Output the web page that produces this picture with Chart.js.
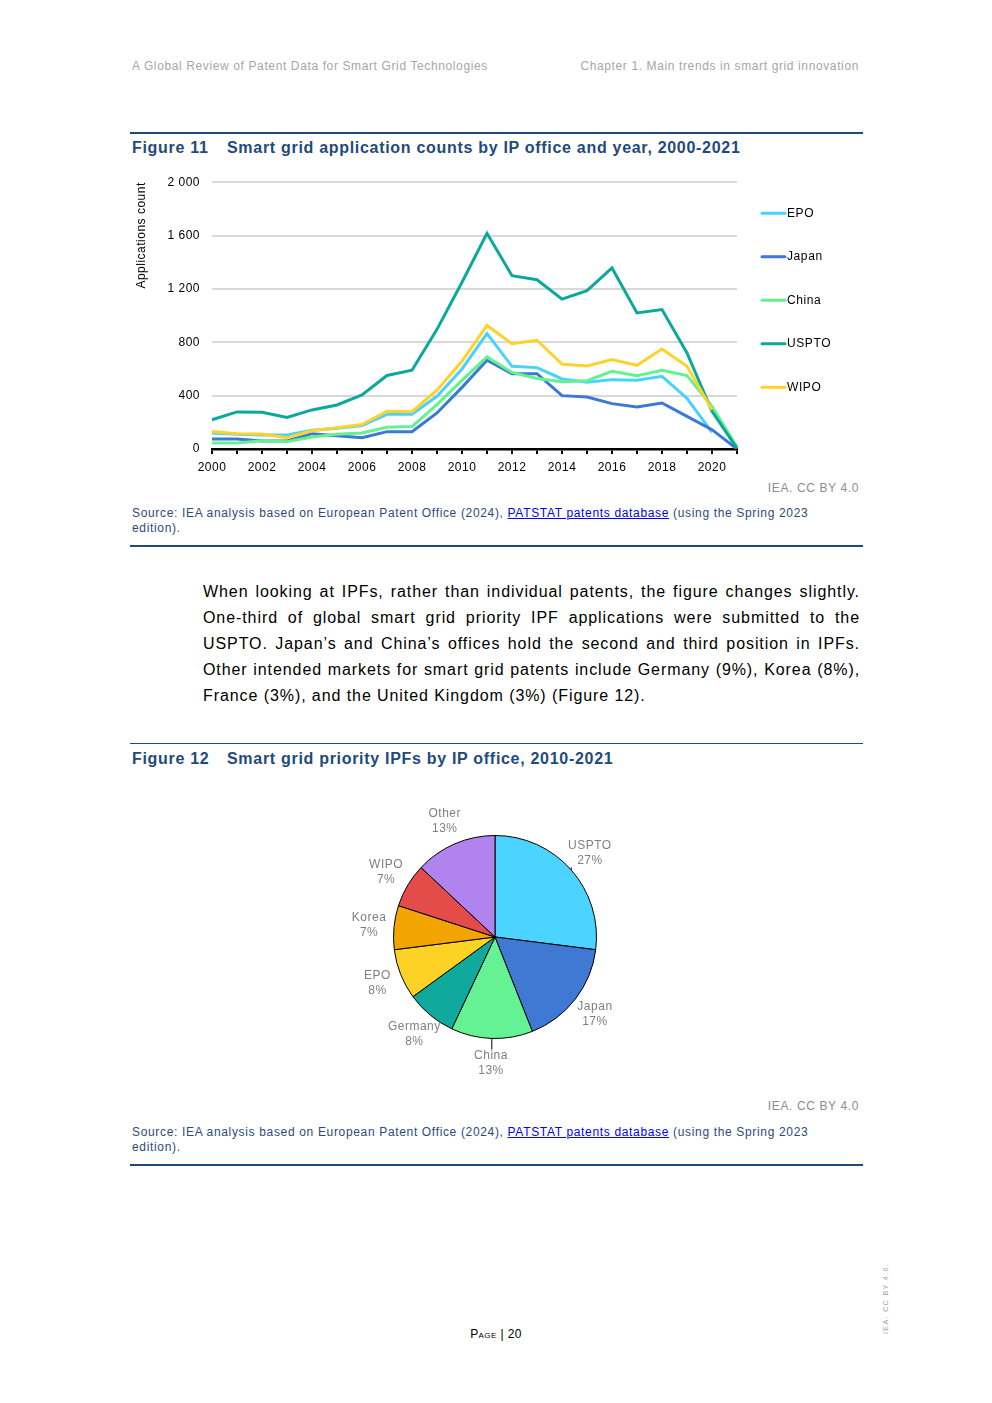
<!DOCTYPE html>
<html>
<head>
<meta charset="utf-8">
<script src="https://cdn.jsdelivr.net/npm/chart.js@4.4.1/dist/chart.umd.min.js"></script>
<style>
  html, body { margin: 0; padding: 0; background: #fff; }
  body { width: 992px; height: 1403px; position: relative; overflow: hidden;
         font-family: "Liberation Sans", Arial, sans-serif; }
  .abs { position: absolute; white-space: nowrap; }
  .hdr { font-size: 12px; line-height: 14px; color: #a6a6a6; letter-spacing: 0.62px; top: 59px; }
  .rule { position: absolute; left: 130px; width: 733px; background: #1f4a7c; }
  .fig { font-size: 16px; line-height: 18px; font-weight: bold; color: #1f4a7c; letter-spacing: 0.7px; }
  .iea { font-size: 12px; line-height: 14px; color: #8c8c8c; right: 133px; letter-spacing: 0.62px; }
  .src { font-size: 12px; line-height: 15px; color: #2f4a78; left: 132px; letter-spacing: 0.66px; white-space: normal; width: 700px; }
  .src a { color: #0000ff; text-decoration: underline; }
  .para { left: 203px; width: 657px; font-size: 16px; line-height: 26px; color: #000; letter-spacing: 0.92px; }
  .para div { text-align: justify; text-align-last: justify; white-space: nowrap; }
  .para div.last { text-align-last: left; }
  .page { font-size: 12px; line-height: 14px; color: #000; left: 0; width: 992px; text-align: center; top: 1327px; letter-spacing: 0.4px; }
  .sc { font-variant: small-caps; }
  .vert { font-size: 7px; color: #a0a0a0; letter-spacing: 1.4px; transform: rotate(-90deg); transform-origin: left top; left: 882px; top: 1334px; }
</style>
</head>
<body>
<div class="abs hdr" style="left:132px;">A Global Review of Patent Data for Smart Grid Technologies</div>
<div class="abs hdr" style="right:133px;">Chapter 1. Main trends in smart grid innovation</div>

<div class="rule" style="top:132px;height:2px;"></div>
<div class="abs fig" style="left:132px;top:139px;">Figure 11</div>
<div class="abs fig" style="left:227px;top:139px;">Smart grid application counts by IP office and year, 2000-2021</div>

<div class="abs" style="left:130px;top:163px;width:740px;height:317px;"><canvas id="lineChart" width="740" height="317"></canvas></div>

<div class="abs iea" style="top:481px;">IEA. CC BY 4.0</div>
<div class="abs src" style="top:506px;">Source: IEA analysis based on European Patent Office (2024), <a>PATSTAT patents database</a> (using the Spring 2023 edition).</div>
<div class="rule" style="top:545px;height:2px;"></div>

<div class="abs para" style="top:579px;">
  <div>When looking at IPFs, rather than individual patents, the figure changes slightly.</div>
  <div>One-third of global smart grid priority IPF applications were submitted to the</div>
  <div>USPTO. Japan’s and China’s offices hold the second and third position in IPFs.</div>
  <div>Other intended markets for smart grid patents include Germany (9%), Korea (8%),</div>
  <div class="last">France (3%), and the United Kingdom (3%) (Figure 12).</div>
</div>

<div class="rule" style="top:743px;height:1px;"></div>
<div class="abs fig" style="left:132px;top:750px;">Figure 12</div>
<div class="abs fig" style="left:227px;top:750px;">Smart grid priority IPFs by IP office, 2010-2021</div>

<div class="abs" style="left:330px;top:790px;width:330px;height:300px;"><canvas id="pieChart" width="330" height="300"></canvas></div>

<div class="abs iea" style="top:1099px;">IEA. CC BY 4.0</div>
<div class="abs src" style="top:1125px;">Source: IEA analysis based on European Patent Office (2024), <a>PATSTAT patents database</a> (using the Spring 2023 edition).</div>
<div class="rule" style="top:1164px;height:2px;"></div>

<div class="abs page"><span class="sc">Page</span> | 20</div>
<div class="abs vert">IEA. CC BY 4.0.</div>

<script>
// ---------- Figure 11 data ----------
const years = ['2000','2001','2002','2003','2004','2005','2006','2007','2008','2009','2010',
               '2011','2012','2013','2014','2015','2016','2017','2018','2019','2020','2021'];
const epo   = [120,110,105,105,140,155,175,260,260,395,600,865,620,610,525,500,520,515,545,380,125,null];
const japan = [75,75,60,60,115,100,85,130,130,270,462,665,565,565,400,390,340,315,345,245,145,0];
const china = [45,45,62,55,90,110,120,163,168,333,515,690,574,529,504,512,582,550,590,550,320,15];
const uspto = [219,278,275,236,293,330,405,551,591,897,1250,1617,1299,1269,1123,1187,1357,1020,1045,720,282,5];
const wipo  = [132,115,112,85,137,160,183,283,280,441,658,926,790,815,636,623,670,627,750,620,295,null];
const yTicks = [0,400,800,1200,1600,2000];

// ---------- Figure 12 data ----------
const pieLabels = ['USPTO','Japan','China','Germany','EPO','Korea','WIPO','Other'];
const pieValues = [27,17,13,8,8,7,7,13];

Chart.defaults.font.family = '"Liberation Sans", Arial, sans-serif';
Chart.defaults.font.size = 12;
Chart.defaults.color = '#000';

const fmt = v => String(v).replace(/\B(?=(\d{3})+$)/g, ' ');

const spacingPlugin = {
  id: 'spacing',
  beforeDraw(chart) { chart.ctx.letterSpacing = '0.5px'; }
};

const lineColors = ['#47d2ff','#3d78d4','#63f28f','#0aa99c','#fdd22a'];
const lineNames = ['EPO','Japan','China','USPTO','WIPO'];
const lineSeries = [epo, japan, china, uspto, wipo];

const legendPlugin = {
  id: 'sideLegend',
  afterDraw(chart) {
    const ctx = chart.ctx;
    const area = chart.chartArea;
    ctx.save();
    ctx.letterSpacing = '0.6px';
    ctx.font = '12px "Liberation Sans", Arial, sans-serif';
    ctx.textBaseline = 'middle';
    chart.data.datasets.forEach((ds, i) => {
      const y = area.top + 31 + i * 43.5;
      const x0 = area.right + 25;
      ctx.strokeStyle = ds.borderColor;
      ctx.lineWidth = 3;
      ctx.lineCap = 'round';
      ctx.beginPath(); ctx.moveTo(x0, y); ctx.lineTo(x0 + 23, y); ctx.stroke();
      ctx.fillStyle = '#000';
      ctx.fillText(ds.label, x0 + 25, y);
    });
    ctx.restore();
  }
};

new Chart(document.getElementById('lineChart'), {
  type: 'line',
  data: {
    labels: years,
    datasets: lineSeries.map((d, i) => ({
      label: lineNames[i],
      data: d,
      borderColor: lineColors[i],
      backgroundColor: lineColors[i],
      borderWidth: 3,
      pointRadius: 0,
      tension: 0,
      spanGaps: false,
      order: lineSeries.length - i
    }))
  },
  options: {
    responsive: false,
    animation: false,
    layout: { padding: { top: 4, right: 133, left: 4, bottom: 0 } },
    plugins: { legend: { display: false }, tooltip: { enabled: false } },
    scales: {
      x: {
        offset: false,
        afterFit(s) { s.height = 31; },
        border: { display: true, color: '#000', width: 2.5 },
        grid: { drawOnChartArea: false, drawTicks: true, tickLength: 5, color: '#000', lineWidth: 2 },
        ticks: { autoSkip: false, maxRotation: 0, padding: 6, color: '#000',
                 callback: (v, i) => (i % 2 === 0 ? years[i] : '') }
      },
      y: {
        min: 0, max: 2000,
        afterFit(s) { s.width = 78; },
        afterBuildTicks(s) { s.ticks = yTicks.map(v => ({ value: v })); },
        border: { display: false },
        grid: { color: '#d9d9d9', lineWidth: 2, drawTicks: false },
        ticks: { padding: 12, color: '#000', callback: v => fmt(v) },
        title: { display: true, text: 'Applications count', align: 'end', color: '#000',
                 font: { size: 12 }, padding: { top: 0, bottom: 4 } }
      }
    }
  },
  plugins: [spacingPlugin, legendPlugin]
});

const pieColors = ['#4bd4ff','#3f79d4','#64f294','#0fa99d','#fcd225','#f2a400','#e44c4a','#b083ef'];
const leaderLabels = ['USPTO','China'];

const pieLabelPlugin = {
  id: 'pieLabels',
  afterDatasetsDraw(chart) {
    const ctx = chart.ctx;
    const meta = chart.getDatasetMeta(0);
    const vals = chart.data.datasets[0].data;
    const total = vals.reduce((a, b) => a + b, 0);
    ctx.save();
    ctx.letterSpacing = '0.5px';
    ctx.font = '12px "Liberation Sans", Arial, sans-serif';
    ctx.fillStyle = '#7f7f7f';
    ctx.textAlign = 'center';
    ctx.textBaseline = 'middle';
    meta.data.forEach((arc, i) => {
      const p = arc.getProps(['x','y','startAngle','endAngle','outerRadius'], true);
      const mid = (p.startAngle + p.endAngle) / 2;
      const r = p.outerRadius + 25;
      const cx = p.x + Math.cos(mid) * r;
      const cy = p.y + Math.sin(mid) * r;
      const name = chart.data.labels[i];
      ctx.fillText(name, cx, cy - 7.5);
      ctx.fillText(Math.round(vals[i] / total * 100) + '%', cx, cy + 7.5);
      if (leaderLabels.includes(name)) {
        const ex = p.x + Math.cos(mid) * p.outerRadius;
        const ey = p.y + Math.sin(mid) * p.outerRadius;
        const ty = cy < ey ? cy + 14 : cy - 14;
        ctx.strokeStyle = '#000';
        ctx.lineWidth = 1;
        ctx.beginPath(); ctx.moveTo(ex, ey); ctx.lineTo(ex, ty); ctx.stroke();
      }
    });
    ctx.restore();
  }
};

new Chart(document.getElementById('pieChart'), {
  type: 'pie',
  data: {
    labels: pieLabels,
    datasets: [{
      data: pieValues,
      backgroundColor: pieColors,
      borderColor: '#000',
      borderWidth: 1
    }]
  },
  options: {
    responsive: false,
    animation: false,
    layout: { padding: { top: 45, bottom: 51, left: 63, right: 63 } },
    plugins: { legend: { display: false }, tooltip: { enabled: false } }
  },
  plugins: [pieLabelPlugin]
});
</script>
</body>
</html>
